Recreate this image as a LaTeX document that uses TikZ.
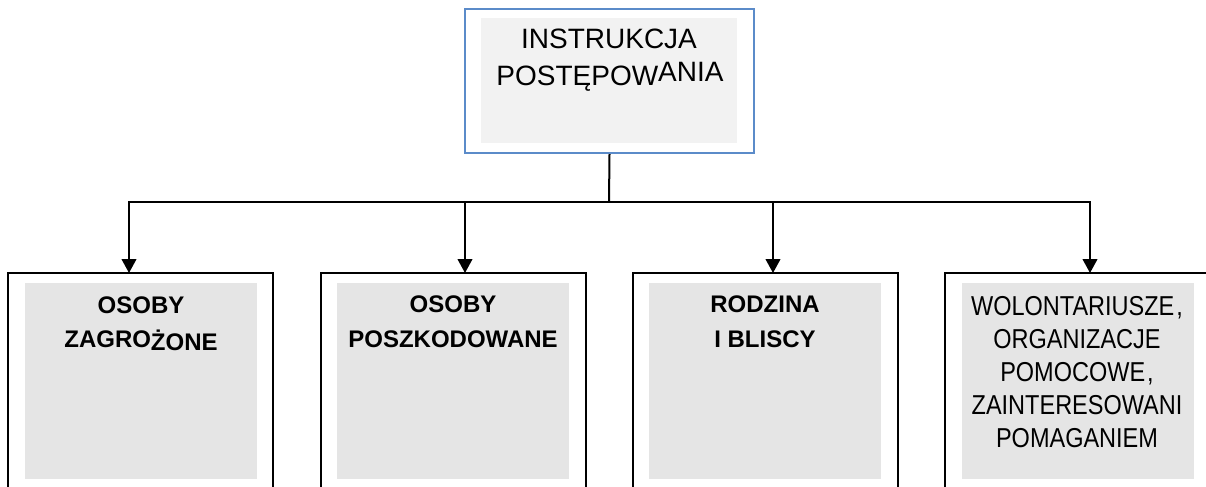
\documentclass[tikz,border=0pt]{standalone}
\usepackage{fontspec}
\setmainfont{Liberation Sans}
\newfontfamily\narrowsans[FakeStretch=0.86]{Liberation Sans}
\usetikzlibrary{arrows.meta}
\definecolor{topblue}{RGB}{91,139,201}
\definecolor{lightfill}{RGB}{242,242,242}
\definecolor{boxfill}{RGB}{229,229,229}
\begin{document}
\begin{tikzpicture}[x=0.75pt,y=-0.75pt,
  topouter/.style={draw=topblue, line width=1.5pt, minimum width=216.75pt, minimum height=108pt, inner sep=0pt},
  topinner/.style={fill=lightfill, minimum width=192pt, minimum height=93.75pt, inner sep=0pt},
  outerbox/.style={draw=black, line width=1.5pt, minimum width=198.75pt, minimum height=185.25pt, inner sep=0pt},
  innerbox/.style={fill=boxfill, minimum width=174pt, minimum height=147pt, inner sep=0pt},
  toptext/.style={anchor=base, inner sep=0pt, font=\fontsize{21}{25}\selectfont},
  boldtext/.style={anchor=base, inner sep=0pt, font=\fontsize{18}{21}\selectfont\bfseries},
  narrowtext/.style={anchor=base, inner sep=0pt, font=\narrowsans\fontsize{20.5}{24}\selectfont},
  conn/.style={draw=black, line width=1.5pt},
  arr/.style={conn, -{Triangle[width=11pt,length=10.5pt]}}
]
\useasboundingbox (0,0) rectangle (1206,486);
\clip (0,0) rectangle (1206,486);

% top box
\node[topouter] (topout) at (609.5,81) {};
\node[topinner] (topin) at (609,80.5) {};
\node[toptext] (tl1) at (609,48) {INSTRUKCJA};
\node[toptext] (tl2) at (610,85) {POSTĘPOW\raisebox{2.5pt}{ANIA}};

% bottom boxes
\node[outerbox] (b1) at (140.5,396.5) {};
\node[innerbox] (i1) at (141,381) {};
\node[outerbox] (b2) at (453.5,396.5) {};
\node[innerbox] (i2) at (453,381) {};
\node[outerbox] (b3) at (765,396.5) {};
\node[innerbox] (i3) at (765,381) {};
\node[outerbox] (b4) at (1077.5,396.5) {};
\node[innerbox] (i4) at (1078,381) {};

% texts
\node[boldtext] (l1a) at (141,313) {OSOBY};
\node[boldtext] (l1b) at (141,347) {ZAGRO\raisebox{-2.5pt}{ŻONE}};
\node[boldtext] (l2a) at (453,312) {OSOBY};
\node[boldtext] (l2b) at (453,347) {POSZKODOWANE};
\node[boldtext] (l3a) at (765,312) {RODZINA};
\node[boldtext] (l3b) at (765,347) {I BLISCY};
\node[narrowtext] (l4a) at (1077,315) {WOLONTARIUSZE\kern1.5pt,};
\node[narrowtext] (l4b) at (1077,348) {ORGANIZACJE};
\node[narrowtext] (l4c) at (1077,381) {POMOCOWE\kern1.5pt,};
\node[narrowtext] (l4d) at (1077,414) {ZAINTERESOWANI};
\node[narrowtext] (l4e) at (1077,447) {POMAGANIEM};

% connectors
\coordinate (hub) at (609,202);
\coordinate (t1) at (129,273);
\coordinate (t2) at (465,273);
\coordinate (t3) at (773,273);
\coordinate (t4) at (1090,273);
\draw[conn] (topout.south) -- (hub);
\draw[arr] (hub) -| (t1);
\draw[arr] (hub) -| (t2);
\draw[arr] (hub) -| (t3);
\draw[arr] (hub) -| (t4);
\end{tikzpicture}
\end{document}
